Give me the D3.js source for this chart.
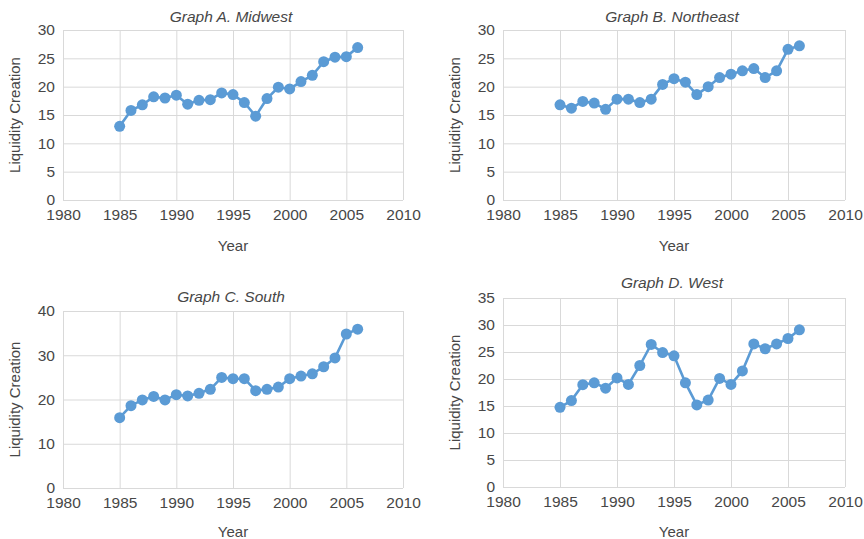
<!DOCTYPE html>
<html><head><meta charset="utf-8">
<script src="https://cdn.jsdelivr.net/npm/d3@7"></script>
<style>
body{margin:0;background:#fff;}
text{font-family:"Liberation Sans",Arial,Helvetica,sans-serif;}
</style></head>
<body>
<svg id="chart" width="864" height="539"></svg>
<script>
const years = d3.range(1985, 2007);
const midwest = [13.0,15.8,16.8,18.2,18.0,18.5,16.9,17.6,17.7,18.9,18.6,17.2,14.8,17.9,19.9,19.6,20.9,22.0,24.4,25.2,25.3,26.9];
const northeast = [16.8,16.2,17.4,17.1,16.0,17.8,17.8,17.2,17.8,20.4,21.4,20.8,18.6,20.0,21.6,22.2,22.8,23.2,21.6,22.8,26.6,27.2];
const south = [15.9,18.6,19.9,20.7,19.9,21.1,20.8,21.4,22.3,25.0,24.7,24.7,22.0,22.3,22.8,24.7,25.3,25.8,27.4,29.4,34.8,35.9];
const west = [14.75,16.0,18.95,19.3,18.3,20.2,19.0,22.5,26.4,24.9,24.3,19.3,15.2,16.1,20.1,19.0,21.5,26.5,25.6,26.5,27.5,29.1];
const xTicks = [1980,1985,1990,1995,2000,2005,2010];
const titles = ["Graph A. Midwest","Graph B. Northeast","Graph C. South","Graph D. West"];
const yMax = [30,30,40,35];
const yStep = [5,5,10,5];
const xTitle = "Year";
const yTitle = "Liquidity Creation";

const panels = [
  {values: midwest,   l:63,  r:403, t:30,  b:200, ty:16,  xt:245},
  {values: northeast, l:503, r:845, t:30,  b:200, ty:16,  xt:245},
  {values: south,     l:63,  r:403, t:311, b:488, ty:296, xt:531},
  {values: west,      l:503, r:845, t:298, b:487, ty:282, xt:531}
];

const svg = d3.select("#chart");
const blue = "#5b9bd5", grid = "#d9d9d9", txt = "#474747";

panels.forEach((p, i) => {
  const g = svg.append("g");
  const x = d3.scaleLinear().domain([1980, 2010]).range([p.l, p.r]);
  const y = d3.scaleLinear().domain([0, yMax[i]]).range([p.b, p.t]);
  const yTicks = d3.range(0, yMax[i] + 0.001, yStep[i]);

  const gx = g.append("g").attr("transform", `translate(0,${p.b})`)
    .call(d3.axisBottom(x).tickValues(xTicks).tickFormat(d3.format("d")).tickSize(-(p.b - p.t)).tickPadding(9));
  gx.select(".domain").remove();
  gx.selectAll("line").attr("stroke", grid).attr("stroke-width", 1);
  gx.selectAll("text").attr("fill", txt).style("font-size", "15.5px");

  const gy = g.append("g").attr("transform", `translate(${p.l},0)`)
    .call(d3.axisLeft(y).tickValues(yTicks).tickSize(-(p.r - p.l)).tickPadding(8));
  gy.select(".domain").remove();
  gy.selectAll("line").attr("stroke", grid).attr("stroke-width", 1);
  gy.selectAll("text").attr("fill", txt).style("font-size", "15.5px");

  const data = years.map((yr, k) => [yr, p.values[k]]);
  g.append("path").datum(data)
    .attr("fill", "none").attr("stroke", blue).attr("stroke-width", 2.6)
    .attr("stroke-linejoin", "round")
    .attr("d", d3.line().x(d => x(d[0])).y(d => y(d[1])));
  g.selectAll("circle").data(data).enter().append("circle")
    .attr("cx", d => x(d[0])).attr("cy", d => y(d[1])).attr("r", 5.5)
    .attr("fill", blue);

  g.append("text").attr("x", (p.l + p.r) / 2 - 2).attr("y", p.ty)
    .attr("text-anchor", "middle").attr("dominant-baseline", "central")
    .style("font-style", "italic").style("font-size", "15.5px").attr("fill", txt)
    .text(titles[i]);
  g.append("text").attr("x", (p.l + p.r) / 2).attr("y", p.xt)
    .attr("text-anchor", "middle").attr("dominant-baseline", "central")
    .style("font-size", "15px").attr("fill", txt).text(xTitle);
  g.append("text").attr("transform", `translate(${p.l - 49},${(p.t + p.b) / 2}) rotate(-90)`)
    .attr("text-anchor", "middle").attr("dominant-baseline", "central")
    .style("font-size", "15px").attr("fill", txt).text(yTitle);
});
</script>
</body></html>
